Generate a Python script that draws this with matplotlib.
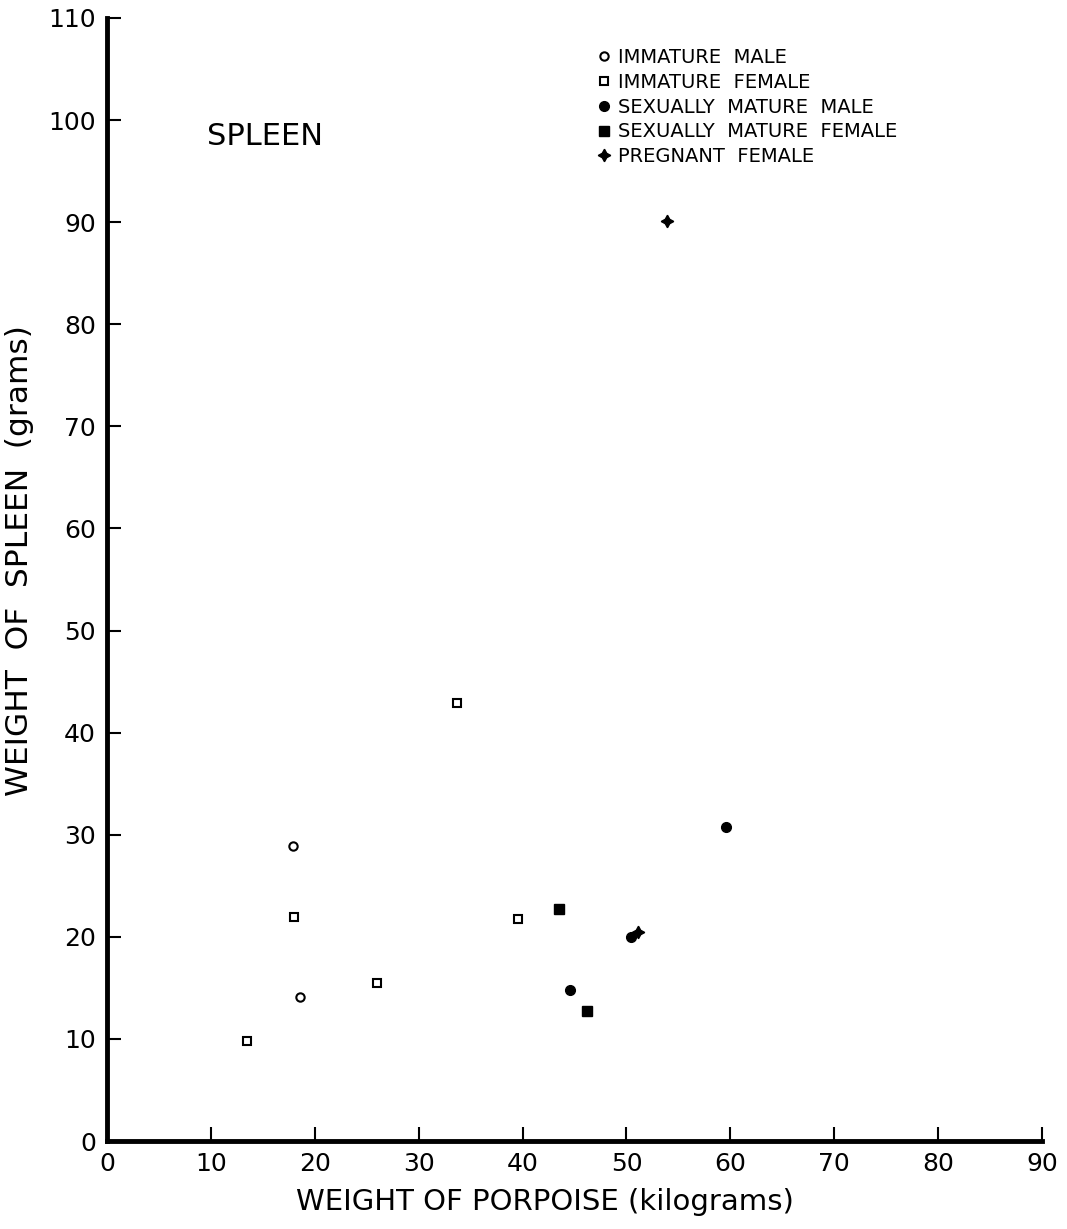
import numpy as np
import matplotlib
matplotlib.use("Agg")
import matplotlib.pyplot as plt

# weight of porpoise (kg) / weight of spleen (g)
imm_male_x = [17.9, 18.6]
imm_male_y = [28.9, 14.1]

imm_female_x = [13.5, 18.0, 26.0, 33.7, 39.6]
imm_female_y = [9.8, 21.9, 15.5, 42.9, 21.7]

mat_male_x = [44.6, 50.4, 59.6]
mat_male_y = [14.8, 20.0, 30.8]

mat_female_x = [43.5, 46.2]
mat_female_y = [22.7, 12.7]

preg_female_x = [51.1, 53.9]
preg_female_y = [20.5, 90.1]

xticks = list(range(0, 100, 10))
yticks = list(range(0, 120, 10))

plt.rcParams['font.family'] = ['DejaVu Sans']

fig = plt.figure(figsize=(10.67, 12.29), dpi=100)
ax = fig.add_axes([0.1003, 0.0716, 0.8763, 0.9138])

ax.plot(imm_male_x, imm_male_y, 'o', mfc='white', mec='black', mew=1.5, ms=6,
        label='IMMATURE  MALE')
ax.plot(imm_female_x, imm_female_y, 's', mfc='white', mec='black', mew=1.5, ms=6,
        label='IMMATURE  FEMALE')
ax.plot(mat_male_x, mat_male_y, 'o', color='black', ms=7,
        label='SEXUALLY  MATURE  MALE')
ax.plot(mat_female_x, mat_female_y, 's', color='black', ms=7,
        label='SEXUALLY  MATURE  FEMALE')
ax.plot(preg_female_x, preg_female_y, marker=(4, 1, 0), ls='none', color='black', ms=9,
        label='PREGNANT  FEMALE')

ax.set_xlim(0, 90)
ax.set_ylim(0, 110)
ax.set_xticks(xticks)
ax.set_yticks(yticks)
ax.tick_params(direction='in', length=10, width=1.5, labelsize=18, pad=8)

for s in ['top', 'right']:
    ax.spines[s].set_visible(False)
for s in ['left', 'bottom']:
    ax.spines[s].set_linewidth(3.5)

ax.set_xlabel('WEIGHT OF PORPOISE (kilograms)', fontsize=21)
ax.set_ylabel('WEIGHT  OF  SPLEEN  (grams)', fontsize=22.5)
ax.xaxis.set_label_coords(0.468, -0.042)
ax.yaxis.set_label_coords(-0.078, 0.517)

ax.text(0.107, 0.894, 'SPLEEN', transform=ax.transAxes, fontsize=22, va='center')

ax.legend(loc='upper left', bbox_to_anchor=(0.515, 0.982), frameon=False,
          fontsize=14, handlelength=0.6, handletextpad=0.4, labelspacing=0.3,
          borderpad=0)

fig.savefig('out.png', dpi=100)
